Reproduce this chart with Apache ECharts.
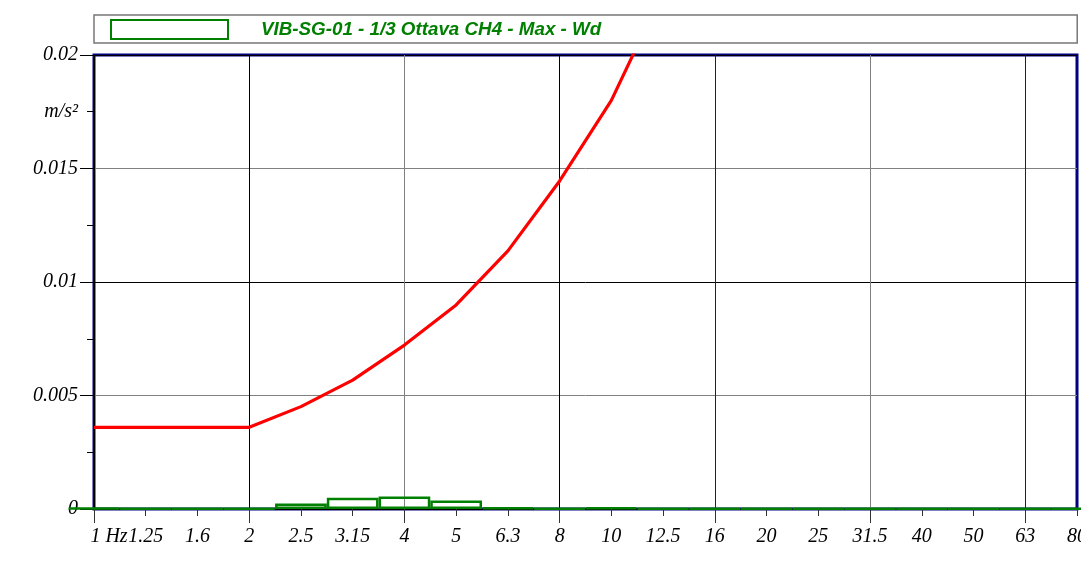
<!DOCTYPE html>
<html>
<head>
<meta charset="utf-8">
<script src="https://cdn.jsdelivr.net/npm/echarts@6.0.0/dist/echarts.min.js"></script>
<style>
  html, body { margin: 0; padding: 0; background: #fff; }
  #chart { width: 1081px; height: 563px; }
</style>
</head>
<body>
<div id="chart"></div>
<script>
// bande 1/3 ottava
const bands = ['1', '1.25', '1.6', '2', '2.5', '3.15', '4', '5', '6.3', '8', '10', '12.5', '16', '20', '25', '31.5', '40', '50', '63', '80']
// valori misurati CH4 (m/s²)
const measured = [0.00004, 0.00002, 0.00002, 0.00003, 0.00024, 0.0005, 0.00055, 0.00037, 0.00006, 0.00003, 0.00007, 0.00003, 0.00003, 0.00003, 0.00002, 0.00002, 0.00003, 0.00002, 0.00002, 0.00002]
// curva limite (rossa), fuori scala oltre 12.5 Hz
const limit = [0.0036, 0.0036, 0.0036, 0.0036, 0.00451, 0.00568, 0.00722, 0.00899, 0.01137, 0.01445, 0.018, 0.0228, null, null, null, null, null, null, null, null]
const yTicks = [0, 0.005, 0.01, 0.015, 0.02]
const seriesName = 'VIB-SG-01 - 1/3 Ottava CH4 - Max - Wd'
const unit = 'm/s²'

const serif = 'Liberation Serif'
const labelStyle = { fontFamily: serif, fontStyle: 'italic', fontSize: 20, color: '#000' }

const myChart = echarts.init(document.getElementById('chart'), null, { renderer: 'canvas' })

const options = {
  animation: false,
  backgroundColor: '#fff',
  legend: {
    left: 94,
    top: 15,
    data: [seriesName],
    icon: 'rect',
    itemWidth: 117,
    itemHeight: 19,
    padding: [4, 476, 3, 16],
    borderColor: '#777',
    borderWidth: 1.5,
    textStyle: {
      fontFamily: 'Liberation Sans',
      fontStyle: 'italic',
      fontWeight: 'bold',
      fontSize: 18.8,
      lineHeight: 19,
      color: '#008000',
      padding: [0, 0, 0, 28]
    }
  },
  grid: {
    left: 94,
    right: 4,
    top: 55,
    bottom: 54,
    outerBoundsMode: 'none',
    show: true,
    borderColor: '#000080',
    borderWidth: 3,
    backgroundColor: '#fff'
  },
  xAxis: [{
    type: 'category',
    data: bands,
    boundaryGap: false,
    axisLine: { show: false },
    axisTick: { show: true, interval: 0, length: 7, lineStyle: { color: '#333' } },
    axisLabel: {
      ...labelStyle,
      interval: 0,
      hideOverlap: false,
      margin: 18,
      formatter: (v, i) => i === 0 ? '{first|' + v + ' Hz}' : v,
      rich: { first: { ...labelStyle, padding: [0, 0, 0, 30] } }
    },
    splitLine: { show: false }
  }, {
    type: 'category',
    data: bands,
    boundaryGap: false,
    position: 'bottom',
    axisLine: { show: false },
    axisTick: { show: true, interval: 2, length: 14, lineStyle: { color: '#333' } },
    axisLabel: { show: false },
    splitLine: {
      show: true,
      interval: 2,
      lineStyle: { color: ['#000', '#000', '#808080', '#000', '#222', '#808080', '#222'], width: 1 }
    }
  }],
  yAxis: [{
    type: 'value',
    min: yTicks[0],
    max: yTicks[yTicks.length - 1],
    interval: 0.005,
    axisLine: { show: false },
    axisTick: { show: true, length: 14, lineStyle: { color: '#000' } },
    minorTick: { show: true, splitNumber: 2, length: 7, lineStyle: { color: '#000' } },
    axisLabel: {
      ...labelStyle,
      margin: 16,
      formatter: v => yTicks.some(t => Math.abs(t - v) < 1e-9) ? String(+v.toFixed(4)) : ''
    },
    splitLine: { show: true, lineStyle: { color: ['#000', '#808080'], width: 1 } }
  }, {
    type: 'value',
    position: 'left',
    min: 0,
    max: 0.02,
    interval: 0.0025,
    axisLine: { show: false },
    axisTick: { show: false },
    splitLine: { show: false },
    axisLabel: {
      ...labelStyle,
      margin: 16,
      formatter: v => Math.abs(v - 0.0175) < 1e-9 ? unit : ''
    }
  }],
  series: [{
    name: 'limite',
    type: 'line',
    data: limit,
    xAxisIndex: 0,
    yAxisIndex: 0,
    showSymbol: false,
    symbol: 'none',
    clip: true,
    lineStyle: { color: '#ff0000', width: 3.2 },
    z: 4
  }, {
    name: seriesName,
    type: 'bar',
    data: measured,
    xAxisIndex: 0,
    yAxisIndex: 0,
    barCategoryGap: '0%',
    clip: true,
    itemStyle: { color: 'rgba(0,0,0,0)', borderColor: '#008000', borderWidth: 2.5 },
    z: 3
  }]
}

myChart.setOption(options)
</script>
</body>
</html>
